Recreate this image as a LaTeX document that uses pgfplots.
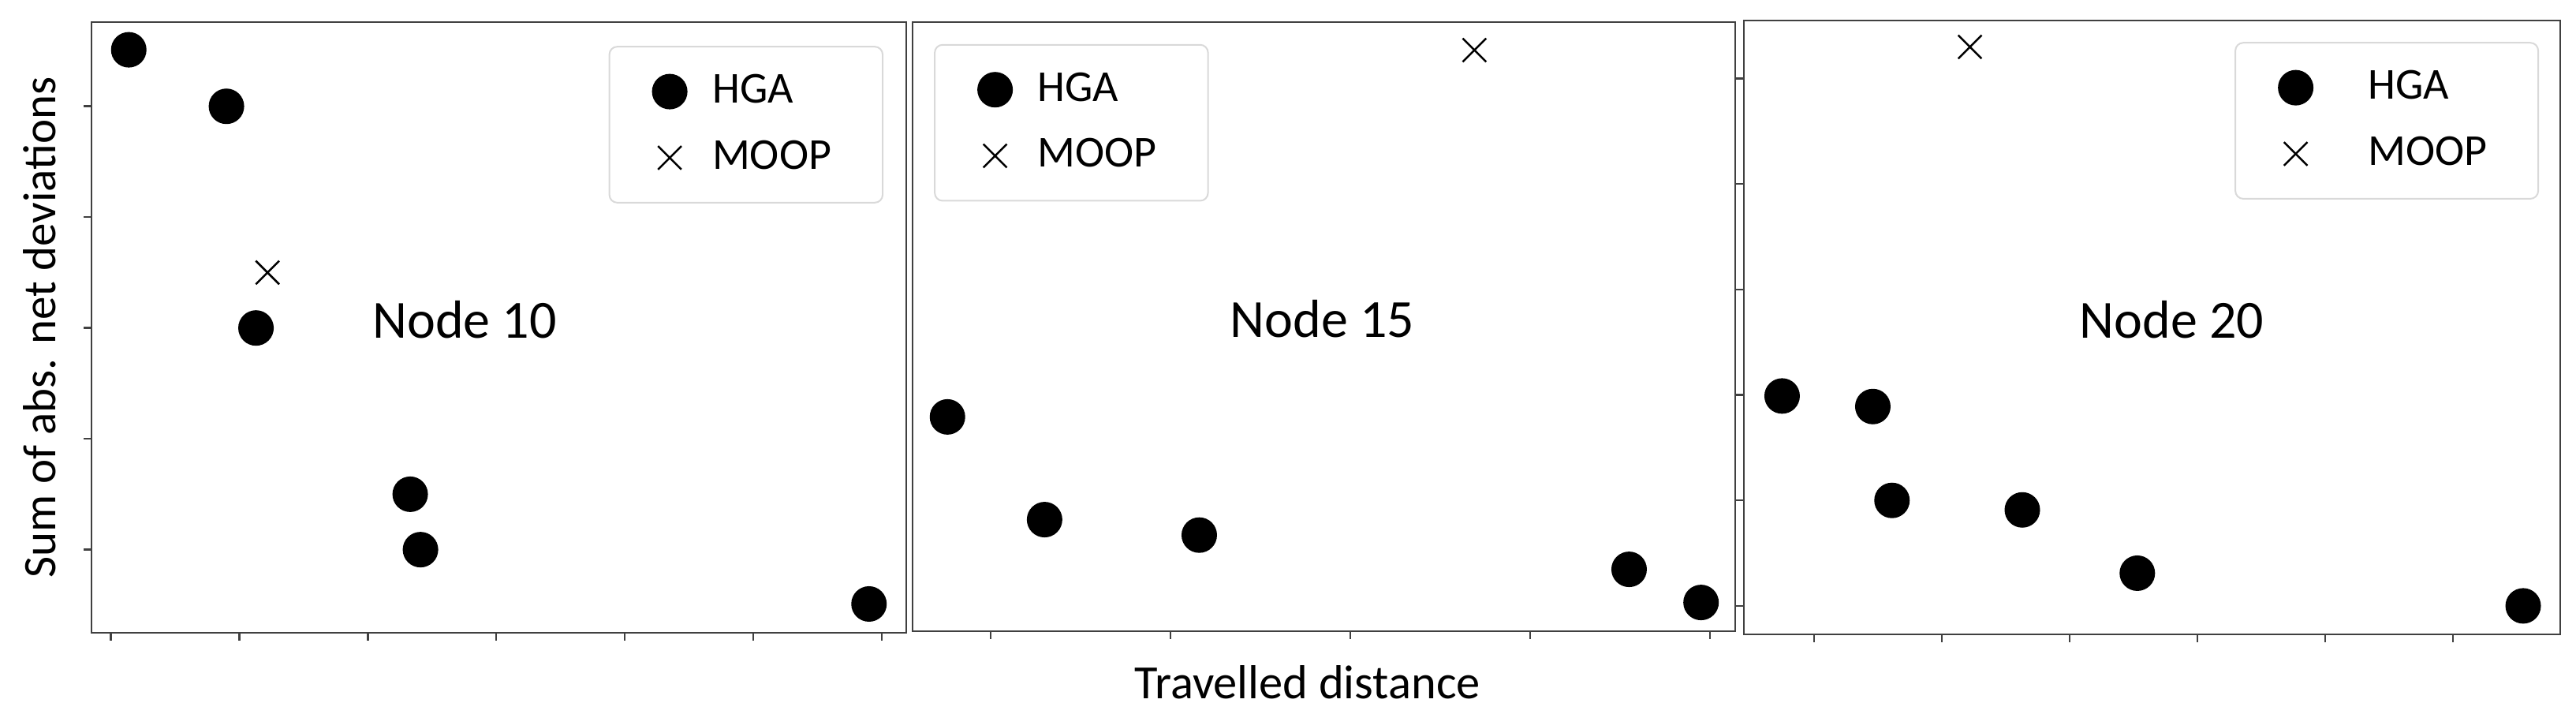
\documentclass[border=0pt]{standalone}
\usepackage{fontspec}
\setmainfont{Carlito}
\usepackage{pgfplots}
\pgfplotsset{compat=1.18}
\pgfplotsset{
  panel/.style={
    scale only axis, anchor=south west, clip=false,
    axis line style={black!75, line width=0.5pt},
    every tick/.style={black!75, line width=0.5pt},
    major tick length=2pt,
    tick align=outside,
    xtick pos=left, ytick pos=left,
    xticklabel=\empty, yticklabel=\empty,
    legend style={draw=black!15, rounded corners=2pt, font=\fontsize{11.2}{13}\selectfont,
      row sep=4pt, inner xsep=11pt, inner ysep=5pt, column sep=4.5pt},
    legend cell align=left,
  },
  hga/.style={only marks, mark=*, mark size=4.3pt, black},
  moop/.style={only marks, mark=x, mark size=4.2pt, black, mark options={line width=0.5pt}},
}
\begin{document}
\begin{tikzpicture}
\useasboundingbox (0,0) rectangle (653.2pt,182pt);
% Panel 1
\begin{axis}[panel, at={(23.2pt,21.6pt)}, width=206.6pt, height=154.8pt,
  xmin=-0.15, xmax=6.19, ymin=-0.75, ymax=4.76,
  xtick={0,...,6}, ytick={0,...,4},
  ylabel={Sum of abs. net deviations},
  ylabel style={at={(axis description cs:-0.043,0.5)}, anchor=south, inner sep=0pt,
    font=\fontsize{11.8}{14}\selectfont},
  legend style={at={(rel axis cs:0.972,0.961)}, anchor=north east}]
\addplot[hga] coordinates {(0.14,4.51) (0.9,4.0) (1.13,2.0) (2.33,0.5) (2.41,0.0) (5.9,-0.49)};
\addplot[moop] coordinates {(1.22,2.5)};
\legend{HGA, MOOP}
\node[font=\fontsize{13.6}{15}\selectfont] at (rel axis cs:0.458,0.513) {Node 10};
\end{axis}
% Panel 2
\begin{axis}[panel, at={(231.4pt,22pt)}, width=208.6pt, height=154.4pt,
  xmin=-0.434, xmax=4.14, ymin=0, ymax=5.514,
  xtick={0,...,4}, ytick=\empty,
  xlabel={Travelled distance},
  xlabel style={at={(axis description cs:0.48,0)}, anchor=north, inner sep=0pt, yshift=-8.5pt,
    font=\fontsize{12.1}{13}\selectfont},
  legend style={at={(rel axis cs:0.026,0.964)}, anchor=north west}]
\addplot[hga] coordinates {(-0.24,1.94) (0.30,1.01) (1.16,0.87) (3.55,0.56) (3.95,0.26)};
\addplot[moop] coordinates {(2.69,5.26)};
\legend{HGA, MOOP}
\node[font=\fontsize{13.6}{15}\selectfont] at (rel axis cs:0.498,0.513) {Node 15};
\end{axis}
% Panel 3
\begin{axis}[panel, at={(442.2pt,21.2pt)}, width=207pt, height=155.6pt,
  xmin=-0.549, xmax=5.84, ymin=-0.27, ymax=5.55,
  xtick={0,...,5}, ytick={0,...,5},
  legend style={at={(rel axis cs:0.974,0.965)}, anchor=north east, column sep=12pt}]
\addplot[hga] coordinates {(-0.25,1.99) (0.46,1.89) (0.61,1.0) (1.63,0.91) (2.53,0.31) (5.55,0.0)};
\addplot[moop] coordinates {(1.22,5.3)};
\legend{HGA, MOOP}
\node[font=\fontsize{13.6}{15}\selectfont] at (rel axis cs:0.524,0.513) {Node 20};
\end{axis}
\end{tikzpicture}
\end{document}
